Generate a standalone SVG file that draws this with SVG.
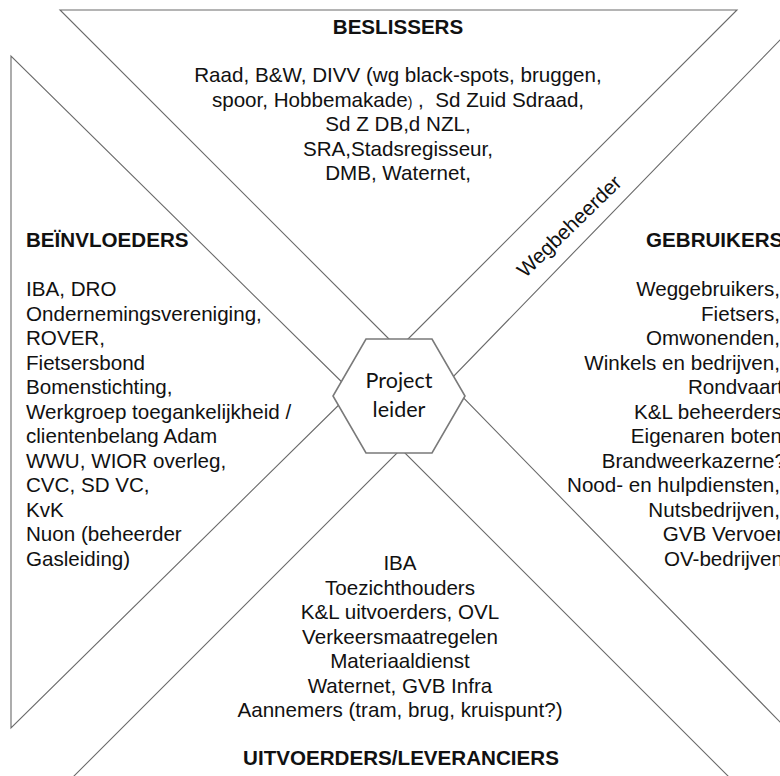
<svg xmlns="http://www.w3.org/2000/svg" width="780" height="776" viewBox="0 0 780 776">
  <style>
    .ln { fill: none; stroke: #6a6a6a; stroke-width: 1.1; stroke-linejoin: miter; }
    .hex { fill: #ffffff; stroke: #7a7a7a; stroke-width: 1.6; }
    .t { font-family: "Liberation Sans", Arial, sans-serif; font-size: 20.6px; fill: #111111; }
    .b { font-weight: bold; }
    .c { text-anchor: middle; }
    .e { text-anchor: end; }
    .pl { font-family: Lato, "Open Sans", "Noto Sans", sans-serif; font-size: 21.5px; fill: #111111; text-anchor: middle; }
  </style>
  <rect width="780" height="776" fill="#ffffff"/>

  <!-- Beslissers (top wedge) -->
  <g id="beslissers">
    <polyline class="ln" points="398.5,348.5 60,10 737,10 398.5,348.5"/>
    <text class="t b c" x="398" y="34">BESLISSERS</text>
    <text class="t c" x="398" y="82">Raad, B&amp;W, DIVV (wg black-spots, bruggen,</text>
    <text class="t c" x="398" y="107" xml:space="preserve">spoor, Hobbemakade<tspan font-size="14">)</tspan> ,  Sd Zuid Sdraad,</text>
    <text class="t c" x="398" y="131">Sd Z DB,d NZL,</text>
    <text class="t c" x="398" y="156">SRA,Stadsregisseur,</text>
    <text class="t c" x="398" y="180">DMB, Waternet,</text>
  </g>

  <!-- Beinvloeders (left wedge) -->
  <g id="beinvloeders">
    <polyline class="ln" points="352,392 11,56 11,728 352,392"/>
    <text class="t b" x="26" y="247">BEÏNVLOEDERS</text>
    <text class="t" x="26" y="296">IBA, DRO</text>
    <text class="t" x="26" y="320.5">Ondernemingsvereniging,</text>
    <text class="t" x="26" y="345">ROVER,</text>
    <text class="t" x="26" y="369.5">Fietsersbond</text>
    <text class="t" x="26" y="394">Bomenstichting,</text>
    <text class="t" x="26" y="418.5">Werkgroep toegankelijkheid /</text>
    <text class="t" x="26" y="443">clientenbelang Adam</text>
    <text class="t" x="26" y="467.5">WWU, WIOR overleg,</text>
    <text class="t" x="26" y="492">CVC, SD VC,</text>
    <text class="t" x="26" y="516.5">KvK</text>
    <text class="t" x="26" y="541">Nuon (beheerder</text>
    <text class="t" x="26" y="565.5">Gasleiding)</text>
  </g>

  <!-- Gebruikers (right wedge) -->
  <g id="gebruikers">
    <polyline class="ln" points="791,28.6 448,382 791,733.3"/>
    <text class="t b" x="646" y="247">GEBRUIKERS</text>
    <text class="t e" x="780" y="296">Weggebruikers,</text>
    <text class="t e" x="780" y="320.5">Fietsers,</text>
    <text class="t e" x="780" y="345">Omwonenden,</text>
    <text class="t e" x="780" y="369.5">Winkels en bedrijven,</text>
    <text class="t e" x="783" y="394">Rondvaart</text>
    <text class="t e" x="782" y="418.5">K&amp;L beheerders</text>
    <text class="t e" x="782" y="443">Eigenaren boten</text>
    <text class="t e" x="786" y="467.5">Brandweerkazerne?</text>
    <text class="t e" x="780" y="492">Nood- en hulpdiensten,</text>
    <text class="t e" x="780" y="516.5">Nutsbedrijven,</text>
    <text class="t e" x="783" y="541">GVB Vervoer</text>
    <text class="t e" x="783" y="565.5">OV-bedrijven</text>
  </g>

  <!-- Uitvoerders / leveranciers (bottom wedge) -->
  <g id="uitvoerders">
    <polyline class="ln" points="70,780 401,449 732,780"/>
    <text class="t c" x="400" y="570">IBA</text>
    <text class="t c" x="400" y="594.5">Toezichthouders</text>
    <text class="t c" x="400" y="619">K&amp;L uitvoerders, OVL</text>
    <text class="t c" x="400" y="643.5">Verkeersmaatregelen</text>
    <text class="t c" x="400" y="668">Materiaaldienst</text>
    <text class="t c" x="400" y="692.5">Waternet, GVB Infra</text>
    <text class="t c" x="400" y="717">Aannemers (tram, brug, kruispunt?)</text>
    <text class="t b c" x="401" y="765">UITVOERDERS/LEVERANCIERS</text>
  </g>

  <!-- Road authority band label -->
  <g id="wegbeheerder">
    <text class="t c" x="570" y="233" font-size="18" transform="rotate(-44 570 227)">Wegbeheerder</text>
  </g>

  <!-- Central hexagon -->
  <g id="projectleider">
    <polygon class="hex" points="366,339 432,339 465,396 432,453 366,453 333,396"/>
    <text class="pl" x="399" y="388">Project</text>
    <text class="pl" x="399" y="417">leider</text>
  </g>
</svg>
